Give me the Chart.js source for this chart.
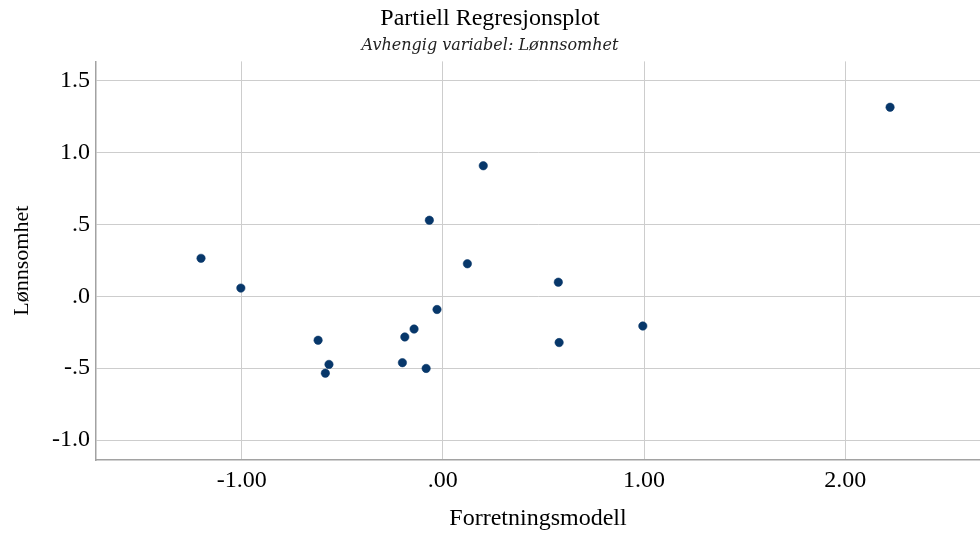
<!DOCTYPE html>
<html>
<head>
<meta charset="utf-8">
<script src="https://cdn.jsdelivr.net/npm/chart.js@4/dist/chart.umd.min.js"></script>
<style>
  html, body { margin: 0; padding: 0; background: #ffffff; }
  #wrap { width: 980px; height: 536px; }
</style>
</head>
<body>
<div id="wrap"><canvas id="c" width="980" height="536"></canvas></div>
<script>
// Partial regression plot: Forretningsmodell (x) vs Lønnsomhet (y)
const forretningsmodell = [-1.202, -1.004, -0.620, -0.566, -0.584, -0.201, -0.189, -0.143, -0.083, -0.067, -0.029, 0.122, 0.201, 0.574, 0.578, 0.994, 2.223];
const lonnsomhet        = [ 0.264,  0.057, -0.306, -0.474, -0.535, -0.462, -0.283, -0.228, -0.502,  0.529, -0.092, 0.226, 0.908, 0.098, -0.322, -0.207, 1.315];

const xTickValues = [-1, 0, 1, 2];
const xTickLabels = ['-1.00', '.00', '1.00', '2.00'];
const yTickValues = [-1, -0.5, 0, 0.5, 1, 1.5];
const yTickLabels = ['-1.0', '-.5', '.0', '.5', '1.0', '1.5'];

const titleText = 'Partiell Regresjonsplot';
const subtitleText = 'Avhengig variabel: Lønnsomhet';
const xTitle = 'Forretningsmodell';
const yTitle = 'Lønnsomhet';

const points = forretningsmodell.map((x, i) => ({ x: x, y: lonnsomhet[i] }));

const serif = 'Liberation Serif';
const gridColor = '#cdcdcd';
const axisColor = '#a2a2a2';

function labelFor(values, labels) {
  return function (v) {
    const idx = values.findIndex(t => Math.abs(t - v) < 1e-9);
    return idx >= 0 ? labels[idx] : '';
  };
}

new Chart(document.getElementById('c'), {
  type: 'scatter',
  data: {
    datasets: [{
      data: points,
      pointRadius: 4.2,
      pointHoverRadius: 4.2,
      backgroundColor: '#07376a',
      borderColor: 'rgba(7,55,106,0.55)',
      borderWidth: 1
    }]
  },
  options: {
    responsive: false,
    animation: false,
    events: [],
    layout: { padding: 0, autoPadding: false },
    plugins: {
      legend: { display: false },
      tooltip: { enabled: false },
      title: {
        display: true,
        text: titleText,
        color: '#000000',
        font: { family: serif, size: 24, weight: 'normal', lineHeight: 1.2 },
        padding: { top: 4, bottom: 3 }
      },
      subtitle: {
        display: true,
        text: subtitleText,
        color: '#222222',
        font: { family: 'DejaVu Serif', size: 16, style: 'italic', weight: 'normal', lineHeight: 1.2 },
        padding: { top: 0, bottom: 6.4 }
      }
    },
    scales: {
      x: {
        type: 'linear',
        min: -1.724,
        max: 2.670,
        afterBuildTicks: (s) => { s.ticks = xTickValues.map(v => ({ value: v })); },
        afterFit: (s) => { s.height = 76; },
        ticks: {
          callback: labelFor(xTickValues, xTickLabels),
          color: '#000000',
          font: { family: serif, size: 24 },
          padding: 6,
          maxRotation: 0,
          autoSkip: false
        },
        grid: { color: gridColor, lineWidth: 1, drawTicks: false },
        border: { display: true, color: axisColor, width: 1.5 },
        title: {
          display: true,
          text: xTitle,
          color: '#000000',
          font: { family: serif, size: 24 },
          padding: { top: 0, bottom: 3 }
        }
      },
      y: {
        type: 'linear',
        min: -1.139,
        max: 1.634,
        afterBuildTicks: (s) => { s.ticks = yTickValues.map(v => ({ value: v })); },
        afterFit: (s) => { s.width = 96; },
        ticks: {
          callback: labelFor(yTickValues, yTickLabels),
          color: '#000000',
          font: { family: serif, size: 24 },
          padding: 6,
          autoSkip: false
        },
        grid: { color: gridColor, lineWidth: 1, drawTicks: false },
        border: { display: true, color: axisColor, width: 1.5 },
        title: {
          display: true,
          text: yTitle,
          color: '#000000',
          font: { family: serif, size: 22 },
          padding: { top: 9, bottom: 0 }
        }
      }
    }
  }
});
</script>
</body>
</html>
